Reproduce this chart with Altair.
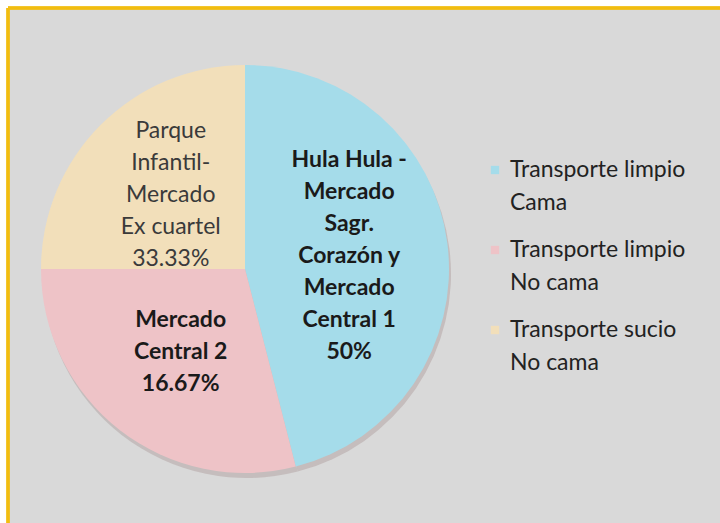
import altair as alt
import pandas as pd

# Data
legend_labels = ["Transporte limpio\nCama", "Transporte limpio\nNo cama", "Transporte sucio\nNo cama"]
slice_share = [46, 29, 25]  # angular share of each slice as drawn
slice_labels = [
    "Hula Hula -\nMercado\nSagr.\nCorazón y\nMercado\nCentral 1\n50%",
    "Mercado\nCentral 2\n16.67%",
    "Parque\nInfantil-\nMercado\nEx cuartel\n33.33%",
]
label_bold = [True, True, False]
colors = ["#a5dcea", "#eec3c7", "#f2dfba"]

df = pd.DataFrame({
    "cat": legend_labels,
    "share": slice_share,
    "label": slice_labels,
    "bold": label_bold,
    "order": [0, 1, 2],
    "nlines": [s.count("\n") + 1 for s in slice_labels],
})

W, H = 712, 515
CX, CY = 237, 261
R = 204
LH = 32
FS = 23

color_scale = alt.Scale(domain=legend_labels, range=colors)
theta_scale = alt.Scale(domain=[0, sum(slice_share)])

stacked = alt.Chart(df).transform_stack(
    stack="share", groupby=[], as_=["t0", "t1"], sort=[alt.SortField("order", order="ascending")]
)
base = stacked.encode(
    theta=alt.Theta("t0:Q", scale=theta_scale),
    theta2="t1:Q",
)

shadow = base.mark_arc(outerRadius=R, color="#b5a5a5", opacity=0.55).encode(
    x=alt.value(CX + 2), y=alt.value(CY + 5)
)

pie = base.mark_arc(outerRadius=R).encode(
    x=alt.value(CX), y=alt.value(CY),
    color=alt.Color("cat:N", scale=color_scale, sort=legend_labels, legend=None),
)

text_layers = []
for i, n in enumerate(df["nlines"]):
    bold = bool(df["bold"][i])
    t = stacked.transform_calculate(
        mid="(datum.t0 + datum.t1) / 2"
    ).transform_filter(alt.datum.order == i).mark_text(
        radius=105, fontSize=FS, font="Lato", lineBreak="\n", lineHeight=LH,
        baseline="middle", align="center",
        fontWeight="bold" if bold else "normal",
        color="#1a1a1a" if bold else "#3a3a3a",
        dy=-(n - 1) * LH / 2,
    ).encode(
        theta=alt.Theta("mid:Q", scale=theta_scale),
        x=alt.value(CX), y=alt.value(CY), text="label:N",
    )
    text_layers.append(t)

# legend (manual, multi-line labels)
leg_y = alt.Y("cat:N", sort=legend_labels, axis=None,
              scale=alt.Scale(type="point", range=[162, 322], padding=0))
leg_sym = alt.Chart(df).mark_square(size=70, opacity=1).encode(
    x=alt.value(487), y=leg_y,
    color=alt.Color("cat:N", scale=color_scale, sort=legend_labels, legend=None),
)
leg_txt = alt.Chart(df).mark_text(
    align="left", baseline="middle", font="Lato", fontSize=FS,
    lineBreak="\n", lineHeight=33, color="#222222",
).encode(x=alt.value(502), y=leg_y, text="cat:N")

border_top = alt.Chart(df).mark_rule(color="#f2bd10", strokeWidth=3).encode(
    x=alt.value(0), x2=alt.value(W), y=alt.value(0)
)
border_left = alt.Chart(df).mark_rule(color="#f2bd10", strokeWidth=3).encode(
    x=alt.value(0), y=alt.value(0), y2=alt.value(H)
)

chart = alt.layer(shadow, pie, *text_layers, leg_sym, leg_txt, border_top, border_left).properties(
    width=W, height=H,
    autosize=alt.AutoSizeParams(type="none"),
    padding={"left": 8, "top": 8, "right": 0, "bottom": 0},
    background="white",
).configure_view(fill="#d9d9d9", strokeWidth=0)

chart.save("out.html", embed_options={"renderer": "svg", "actions": False})
